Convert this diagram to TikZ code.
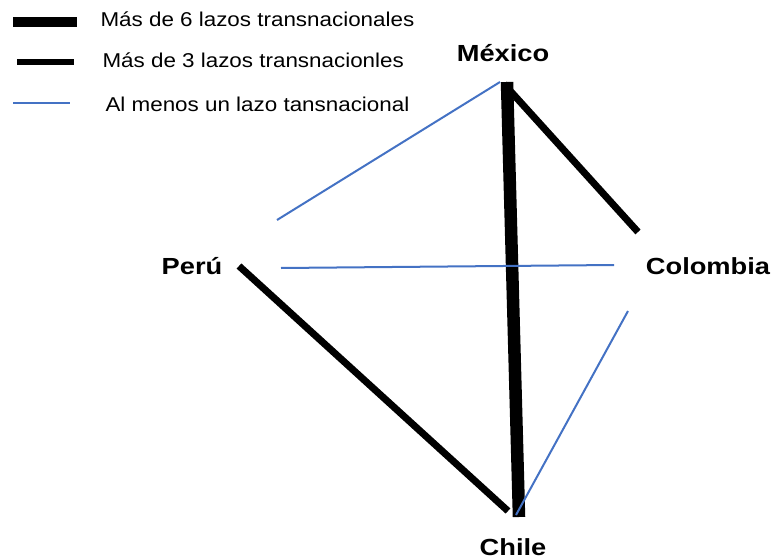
\documentclass[tikz,border=0pt]{standalone}
\usepackage{fontspec}
\setmainfont{Liberation Sans}
\newfontfamily\legfont[FakeStretch=1.12]{Liberation Sans}
\newfontfamily\paisfont[FakeStretch=1.17]{Liberation Sans}
\definecolor{lazoazul}{RGB}{68,114,196}
\tikzset{
	fuerte/.style={line width=12.5pt},
	medio/.style={line width=7pt},
	debil/.style={lazoazul,line width=2pt},
	pais/.style={anchor=base,font=\paisfont\bfseries\fontsize{23.3}{28}\selectfont},
	leyenda/.style={anchor=base west,font=\legfont\fontsize{20}{24}\selectfont}
}
\begin{document}
\begin{tikzpicture}[x=1pt,y=-1pt]
	\useasboundingbox (0,0) rectangle (773,559);
	% leyenda
	\draw[line width=10pt] (13,22)--(77,22);
	\draw[line width=6pt] (17,62)--(74,62);
	\draw[debil] (13,103)--(70,103);
	\node[leyenda] (l6) at (97,27) {Más de 6 lazos transnacionales};
	\node[leyenda] (l3) at (99,68) {Más de 3 lazos transnacionles};
	\node[leyenda] (l1) at (102,112) {Al menos un lazo tansnacional};
	% paises
	\node[pais] (mex) at (503,62) {México};
	\node[pais] (per) at (192,274) {Perú};
	\node[pais] (col) at (708,274) {Colombia};
	\node[pais] (chi) at (513,555) {Chile};
	% extremos de los lazos
	\coordinate (mexA) at (500,82);
	\coordinate (mexB) at (507,82);
	\coordinate (mexC) at (504,84);
	\coordinate (chiA) at (519,517);
	\coordinate (chiB) at (508,511);
	\coordinate (chiC) at (516,515);
	\coordinate (perA) at (277,220);
	\coordinate (perB) at (281,268);
	\coordinate (perC) at (239,266);
	\coordinate (colA) at (614,265);
	\coordinate (colB) at (638,232);
	\coordinate (colC) at (628,311);
	% lazos
	\draw[fuerte] (mexB)--(chiA);
	\draw[medio] (mexC)--(colB) (perC)--(chiB);
	\draw[debil] (mexA)--(perA) (perB)--(colA) (colC)--(chiC);
\end{tikzpicture}
\end{document}
